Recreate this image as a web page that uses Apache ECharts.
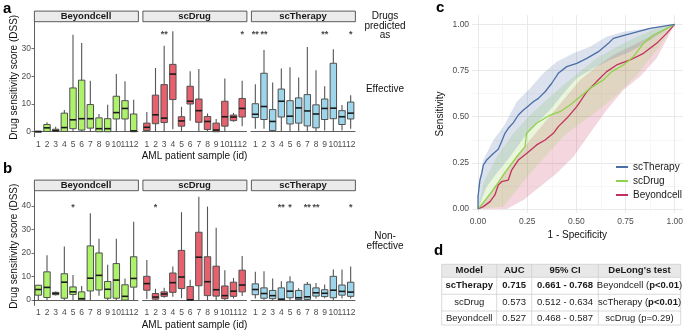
<!DOCTYPE html>
<html>
<head>
<meta charset="utf-8">
<script src="https://cdn.jsdelivr.net/npm/echarts@6/dist/echarts.min.js"></script>
<style>
html, body { margin: 0; padding: 0; background: #fff; }
#main { width: 683px; height: 333px; }
</style>
</head>
<body>
<div id="main"></div>
<script>
// ---- data ----
var samples = ['1', '2', '3', '4', '5', '6', '7', '8', '9', '10', '11', '12'];
var methods = ['Beyondcell', 'scDrug', 'scTherapy'];

// box stats per patient: [min, Q1, median, Q3, max]  (drugs predicted effective)
var effBeyondcell = [[0,0,0,0.2,0.3],[0,0.1,1.4,2.6,3.4],[0,0.1,0.4,0.9,1.8],[0,0.1,1.5,6.7,7.8],[0,1.1,4.3,15.8,35],[0,0.6,4.7,18.6,32],[0,1.3,4.7,9.8,18.4],[0,0,1.1,5,6.4],[0,0,1.1,4.7,9.7],[0,4.6,6.9,12.8,20.8],[0,4.6,8.4,11.2,18.2],[0,0,0.3,6.4,11.5]];
var effScDrug = [[0,0.4,1.6,3.1,7.1],[0,2.9,6.1,13.2,23],[0,3.3,4.9,17,31],[0.9,11.6,20.8,24.3,36.3],[0.1,2,3.9,5.4,9],[4,10,11,16.4,21.8],[0,3.4,7.6,11.8,22.6],[0,0.8,3.7,5.5,6.6],[0,0,0.6,3.1,4.6],[0,2,5.4,11,19.2],[3.6,4,5.3,6,6.8],[2,5.3,8.4,12,18.4]];
var effScTherapy = [[1.1,5.1,6.3,10.1,17.1],[1.1,4.4,9.1,21.1,29.5],[0,0.4,3.7,8,17.8],[0,5.3,11,15.4,22.8],[0,2.8,5.6,11.2,23.3],[0,3.1,8.6,12.2,19.6],[0,2.1,7.5,13.4,30.6],[0,1.4,6.4,9.7,22.2],[0.4,4.4,8.4,11.8,16.4],[0,4.7,8.5,24.7,29.8],[0.4,2.6,5.4,7.6,9.6],[1.1,4.6,6.7,10.7,13.2]];

// drugs predicted non-effective
var nonBeyondcell = [[0,2.1,4.5,6.3,6.5],[0,1.1,5.4,12,19],[2,2.3,2.8,3.3,3.7],[0,0.8,7.6,11.2,22.7],[0,2.4,3.5,5.6,10.7],[0,0,0.6,3.5,6],[0,3.9,9.3,23,36.9],[1.8,4.3,10.5,20,26],[0,0.8,4.6,7.9,15],[0,0.8,8.5,15.5,26],[0,0,1.6,6.5,9.2],[0,5.5,9.2,18.4,33.2]];
var nonScDrug = [[0.5,4.2,7,10.1,17],[0,0.4,1.3,2.8,4.8],[1,1.6,2.6,3.5,5.2],[1.4,3.3,7.4,11.5,14.3],[0.8,4.9,9.8,21.1,37.3],[0,0,0.1,5.8,8.6],[0,6.1,18.2,28.8,43.9],[0,1.9,7.8,18.4,39.7],[0,1.7,4.4,14.4,30.7],[0,0.6,1.9,6,12.7],[0.7,1.6,3.8,7.6,9.4],[1.7,3.5,6.4,12.7,18.7]];
var nonScTherapy = [[0.7,2.3,4.5,6.9,12],[0,0.8,2.8,5.2,12.3],[0,0.6,1.9,4.1,9.2],[0,0,0.4,5.2,8],[0,1,3.8,7.7,10.1],[0,0.2,1,4.1,5],[0,0.3,1.4,6.7,7.7],[0.7,1.7,3.1,5.2,7.3],[0.8,1.5,2.9,4.4,6.6],[0,1,4.2,10.1,13],[0.7,2.1,3.7,6.4,13],[0.7,1.6,3.4,7.6,14.3]];

// significance marks
var effStarsBeyondcell = ['','','','','','','','','','','',''];
var effStarsScDrug = ['','','**','','','','','','','','','*'];
var effStarsScTherapy = ['**','**','','','','','','','**','','','*'];
var nonStarsBeyondcell = ['','','','','*','','','','','','',''];
var nonStarsScDrug = ['','*','','','','','','','','','',''];
var nonStarsScTherapy = ['','','','**','*','','**','**','','','','*'];

var yTicksEff = [0, 10, 20, 30];
var yTicksNon = [0, 10, 20, 30, 40];

// ROC curves (1 - specificity, sensitivity)
var rocTherapyX = [0,0,0.010,0.019,0.027,0.044,0.078,0.103,0.120,0.137,0.154,0.180,0.205,0.231,0.256,0.281,0.307,0.341,0.375,0.408,0.451,0.502,0.553,0.612,0.663,0.688,0.747,0.875,1];
var rocTherapyY = [0,0.067,0.157,0.193,0.238,0.265,0.301,0.323,0.365,0.410,0.437,0.468,0.509,0.536,0.558,0.581,0.599,0.635,0.681,0.735,0.771,0.789,0.816,0.852,0.897,0.924,0.942,0.978,1];
var rocDrugX = [0,0.044,0.095,0.146,0.197,0.239,0.247,0.298,0.366,0.417,0.468,0.519,0.569,0.637,0.680,0.739,0.790,0.841,0.892,0.942,1];
var rocDrugY = [0,0.058,0.130,0.211,0.283,0.338,0.410,0.464,0.509,0.527,0.563,0.608,0.653,0.699,0.744,0.780,0.825,0.897,0.942,0.969,1];
var rocBeyondX = [0,0.027,0.061,0.086,0.103,0.120,0.154,0.171,0.205,0.247,0.298,0.341,0.383,0.408,0.451,0.502,0.553,0.603,0.654,0.705,0.773,0.841,0.908,0.959,1];
var rocBeyondY = [0,0.013,0.040,0.076,0.130,0.148,0.157,0.211,0.265,0.301,0.347,0.374,0.410,0.446,0.491,0.554,0.635,0.690,0.744,0.780,0.807,0.843,0.897,0.951,1];

// 95% CI bands: upper edge and lower edge
var bandTherapyUpX = [0,0.027,0.078,0.129,0.197,0.264,0.332,0.400,0.485,0.569,0.654,0.739,0.858,1];
var bandTherapyUpY = [0.12,0.265,0.374,0.446,0.581,0.653,0.735,0.798,0.843,0.879,0.933,0.960,0.978,1];
var bandTherapyLoX = [0,0.044,0.095,0.163,0.231,0.298,0.366,0.434,0.502,0.586,0.671,0.773,0.875,1];
var bandTherapyLoY = [0,0.121,0.193,0.283,0.383,0.464,0.536,0.626,0.708,0.762,0.807,0.852,0.915,1];
var bandDrugUpX = [0,0.027,0.095,0.180,0.264,0.349,0.434,0.519,0.603,0.705,0.807,0.908,1];
var bandDrugUpY = [0,0.139,0.283,0.410,0.509,0.590,0.671,0.744,0.816,0.879,0.933,0.978,1];
var bandDrugLoX = [0,0.129,0.197,0.264,0.349,0.434,0.519,0.603,0.705,0.807,0.908,1];
var bandDrugLoY = [0,0.013,0.103,0.193,0.292,0.392,0.464,0.527,0.617,0.726,0.861,1];
var bandBeyondUpX = [0,0.061,0.129,0.197,0.264,0.349,0.434,0.519,0.603,0.688,0.773,0.858,0.942,1];
var bandBeyondUpY = [0,0.085,0.193,0.283,0.374,0.482,0.590,0.699,0.771,0.834,0.879,0.924,0.969,1];
var bandBeyondLoX = [0,0.146,0.231,0.315,0.400,0.485,0.569,0.654,0.739,0.824,0.908,1];
var bandBeyondLoY = [0,0,0.049,0.121,0.193,0.283,0.410,0.536,0.644,0.717,0.816,1];

var rocTicks = [0, 0.25, 0.5, 0.75, 1];
var rocMinorTicks = [0.125, 0.375, 0.625, 0.875];

// table (panel d)
var tblHeader = ['Model', 'AUC', '95% CI', "DeLong's test"];
var tblModel = ['scTherapy', 'scDrug', 'Beyondcell'];
var tblAUC = ['0.715', '0.573', '0.527'];
var tblCI = ['0.661 - 0.768', '0.512 - 0.634', '0.468 - 0.587'];
var tblDelongRef = ['Beyondcell', 'scTherapy', 'scDrug'];
var tblDelongP = ['p<0.01', 'p<0.01', 'p=0.29'];

// ---- layout / style ----
var FONT = 'Liberation Sans, Arial, sans-serif';
var fills = ['#aef26c', '#e6606e', '#9dd6ea'];
var panelLeft = [34, 142.5, 251];
var panelW = 104;
var rowTop = [22, 191];
var rowH = [114.7, 114.3];
var rowMin = [-1.8, -2.2];
var rowMax = [39.6, 46.3];
var starY = [35.2, 39.4];

var boxSets = [[effBeyondcell, effScDrug, effScTherapy], [nonBeyondcell, nonScDrug, nonScTherapy]];
var starSets = [[effStarsBeyondcell, effStarsScDrug, effStarsScTherapy], [nonStarsBeyondcell, nonStarsScDrug, nonStarsScTherapy]];
var yTickSets = [yTicksEff, yTicksNon];

function renderBox(params, api) {
  var i = api.value(0);
  var pMin = api.coord([i, api.value(1)]);
  var pQ1 = api.coord([i, api.value(2)]);
  var pMed = api.coord([i, api.value(3)]);
  var pQ3 = api.coord([i, api.value(4)]);
  var pMax = api.coord([i, api.value(5)]);
  var half = api.size([1, 0])[0] * 0.37;
  var x = pMed[0];
  var wStyle = { stroke: '#555', lineWidth: 1.1 };
  return {
    type: 'group',
    children: [
      { type: 'line', shape: { x1: x, y1: pMax[1], x2: x, y2: pQ3[1] }, style: wStyle },
      { type: 'line', shape: { x1: x, y1: pQ1[1], x2: x, y2: pMin[1] }, style: wStyle },
      { type: 'rect', shape: { x: x - half, y: pQ3[1], width: half * 2, height: Math.max(pQ1[1] - pQ3[1], 0.8) },
        style: { fill: api.visual('color'), stroke: '#505050', lineWidth: 1 } },
      { type: 'line', shape: { x1: x - half, y1: pMed[1], x2: x + half, y2: pMed[1] }, style: { stroke: '#1a1a1a', lineWidth: 1.6 } }
    ]
  };
}

function makeBand(upX, upY, loX, loY) {
  return function (params, api) {
    var pts = [];
    for (var i = 0; i < upX.length; i++) pts.push(api.coord([upX[i], upY[i]]));
    for (var j = loX.length - 1; j >= 0; j--) pts.push(api.coord([loX[j], loY[j]]));
    return { type: 'polygon', shape: { points: pts }, style: { fill: api.visual('color'), opacity: 0.2 } };
  };
}

function zip(xs, ys) {
  return xs.map(function (x, i) { return [x, ys[i]]; });
}

var grids = [], xAxes = [], yAxes = [], series = [], graphics = [];

for (var r = 0; r < 2; r++) {
  for (var p = 0; p < 3; p++) {
    var g = r * 3 + p;
    grids.push({ left: panelLeft[p], top: rowTop[r], width: panelW, height: rowH[r], outerBoundsMode: 'none' });
    xAxes.push({
      type: 'category', gridIndex: g, data: samples,
      axisLine: { lineStyle: { color: '#333', width: 0.8 } },
      axisTick: { alignWithLabel: true, length: 2.5, lineStyle: { color: '#333', width: 0.7 } },
      axisLabel: { color: '#4d4d4d', fontSize: 8.5, fontFamily: FONT, margin: 3, interval: 0 },
      splitLine: { show: false }
    });
    yAxes.push({
      type: 'value', gridIndex: g, min: rowMin[r], max: rowMax[r],
      axisLine: { show: p === 0, lineStyle: { color: '#333', width: 0.8 } },
      axisTick: { show: p === 0, length: 2.5, customValues: yTickSets[r], lineStyle: { color: '#333', width: 0.7 } },
      axisLabel: { show: p === 0, customValues: yTickSets[r], color: '#4d4d4d', fontSize: 8.5, fontFamily: FONT, margin: 3 },
      splitLine: { show: false }
    });
    series.push({
      type: 'custom', id: 'box' + g, xAxisIndex: g, yAxisIndex: g,
      itemStyle: { color: fills[p] },
      renderItem: renderBox,
      encode: { x: 0, y: [1, 2, 3, 4, 5] },
      data: boxSets[r][p].map(function (b, i) { return [i].concat(b); }),
      silent: true
    });
    var marks = [];
    starSets[r][p].forEach(function (s, i) {
      if (s) marks.push({ value: [i, starY[r]], label: { formatter: s } });
    });
    series.push({
      type: 'scatter', xAxisIndex: g, yAxisIndex: g, symbolSize: 0, silent: true,
      label: { show: true, position: 'inside', color: '#111', fontSize: 9, fontFamily: FONT, fontWeight: 'bold' },
      data: marks
    });
    // facet strip
    graphics.push({
      type: 'rect', left: panelLeft[p], top: rowTop[r] - 11.3, shape: { width: panelW, height: 10.6 },
      style: { fill: '#ebebeb', stroke: '#333', lineWidth: 0.8 }
    });
    graphics.push({
      type: 'text', x: panelLeft[p] + panelW / 2, y: rowTop[r] - 6,
      style: { text: methods[p], font: 'bold 9.5px ' + FONT, fill: '#1a1a1a', align: 'center', verticalAlign: 'middle' }
    });
  }
  graphics.push({
    type: 'text', x: 14, y: rowTop[r] + rowH[r] / 2 - 2, rotation: Math.PI / 2,
    style: { text: 'Drug sensitivity score (DSS)', font: '10px ' + FONT, fill: '#111', align: 'center', verticalAlign: 'middle' }
  });
  graphics.push({
    type: 'text', x: 194.5, y: rowTop[r] + rowH[r] + 19.5,
    style: { text: 'AML patient sample (id)', font: '10px ' + FONT, fill: '#111', align: 'center', verticalAlign: 'middle' }
  });
}

// ROC grid
grids.push({ left: 472.1, top: 15.1, width: 210.5, height: 197.6, outerBoundsMode: 'none' });
xAxes.push({
  type: 'value', gridIndex: 6, min: -0.03, max: 1.04,
  axisLine: { show: false }, axisTick: { show: false, customValues: rocTicks },
  axisLabel: { customValues: rocTicks, color: '#4d4d4d', fontSize: 8.5, fontFamily: FONT, margin: 4,
    formatter: function (v) { return v.toFixed(2); } },
  splitLine: { show: true, lineStyle: { color: '#e3e3e3', width: 0.8 } },
  name: '1 - Specificity', nameLocation: 'middle', nameGap: 15,
  nameTextStyle: { color: '#111', fontSize: 10, fontFamily: FONT }
});
yAxes.push({
  type: 'value', gridIndex: 6, min: -0.02, max: 1.05,
  axisLine: { show: false }, axisTick: { show: false, customValues: rocTicks },
  axisLabel: { customValues: rocTicks, color: '#4d4d4d', fontSize: 8.5, fontFamily: FONT, margin: 3,
    formatter: function (v) { return v.toFixed(2); } },
  splitLine: { show: true, lineStyle: { color: '#e3e3e3', width: 0.8 } },
  name: 'Sensitivity', nameLocation: 'middle', nameGap: 27, nameRotate: 90,
  nameTextStyle: { color: '#111', fontSize: 10, fontFamily: FONT }
});
// minor grid lines
xAxes.push({
  type: 'value', gridIndex: 6, position: 'top', min: -0.03, max: 1.04,
  axisLine: { show: false }, axisTick: { show: false, customValues: rocMinorTicks },
  axisLabel: { show: false, customValues: rocMinorTicks },
  splitLine: { show: true, lineStyle: { color: '#f1f1f1', width: 0.6 } }
});
yAxes.push({
  type: 'value', gridIndex: 6, position: 'right', min: -0.02, max: 1.05,
  axisLine: { show: false }, axisTick: { show: false, customValues: rocMinorTicks },
  axisLabel: { show: false, customValues: rocMinorTicks },
  splitLine: { show: true, lineStyle: { color: '#f1f1f1', width: 0.6 } }
});

var rocColors = { scTherapy: '#4a6ea6', scDrug: '#8fd34b', Beyondcell: '#c2305c' };
var bands = [
  ['Beyondcell', bandBeyondUpX, bandBeyondUpY, bandBeyondLoX, bandBeyondLoY],
  ['scDrug', bandDrugUpX, bandDrugUpY, bandDrugLoX, bandDrugLoY],
  ['scTherapy', bandTherapyUpX, bandTherapyUpY, bandTherapyLoX, bandTherapyLoY]
];
bands.forEach(function (b) {
  series.push({
    type: 'custom', xAxisIndex: 6, yAxisIndex: 6, silent: true, z: 1,
    itemStyle: { color: rocColors[b[0]] },
    renderItem: makeBand(b[1], b[2], b[3], b[4]),
    data: [[0, 0]]
  });
});
var rocLines = [
  ['Beyondcell', rocBeyondX, rocBeyondY],
  ['scDrug', rocDrugX, rocDrugY],
  ['scTherapy', rocTherapyX, rocTherapyY]
];
rocLines.forEach(function (l) {
  series.push({
    type: 'line', name: l[0], xAxisIndex: 6, yAxisIndex: 6, z: 3,
    showSymbol: false, symbol: 'none', silent: true,
    lineStyle: { color: rocColors[l[0]], width: 1.3 },
    itemStyle: { color: rocColors[l[0]] },
    data: zip(l[1], l[2])
  });
});

// side labels, panel letters
graphics.push({ type: 'text', x: 3, y: 9, style: { text: 'a', font: 'bold 15px ' + FONT, fill: '#000', verticalAlign: 'middle' } });
graphics.push({ type: 'text', x: 3, y: 169, style: { text: 'b', font: 'bold 15px ' + FONT, fill: '#000', verticalAlign: 'middle' } });
graphics.push({ type: 'text', x: 436, y: 8, style: { text: 'c', font: 'bold 15px ' + FONT, fill: '#000', verticalAlign: 'middle' } });
graphics.push({ type: 'text', x: 434, y: 251, style: { text: 'd', font: 'bold 15px ' + FONT, fill: '#000', verticalAlign: 'middle' } });
[['Drugs', 16], ['predicted', 26], ['as', 35], ['Effective', 89], ['Non-', 236], ['effective', 246]].forEach(function (t) {
  graphics.push({ type: 'text', x: 385, y: t[1], style: { text: t[0], font: '10px ' + FONT, fill: '#111', align: 'center', verticalAlign: 'middle' } });
});

// table d
var colEdges = [441.7, 496.7, 531.7, 598.3, 680.7];
var rowEdges = [264.3, 277.3, 294.3, 311, 325];
graphics.push({ type: 'rect', shape: { x: colEdges[0], y: rowEdges[0], width: colEdges[4] - colEdges[0], height: rowEdges[1] - rowEdges[0] }, style: { fill: '#e8e8e8' } });
rowEdges.forEach(function (y) {
  graphics.push({ type: 'line', shape: { x1: colEdges[0], y1: y, x2: colEdges[4], y2: y }, style: { stroke: '#cfcfcf', lineWidth: 0.8 } });
});
colEdges.forEach(function (x) {
  graphics.push({ type: 'line', shape: { x1: x, y1: rowEdges[0], x2: x, y2: rowEdges[4] }, style: { stroke: '#cfcfcf', lineWidth: 0.8 } });
});
function cell(c, rr, text, bold, rich) {
  var st = { text: text, x: (colEdges[c] + colEdges[c + 1]) / 2, y: (rowEdges[rr] + rowEdges[rr + 1]) / 2,
    font: (bold ? 'bold ' : '') + '9.5px ' + FONT, fill: '#1a1a1a', align: 'center', verticalAlign: 'middle' };
  if (rich) st.rich = rich;
  graphics.push({ type: 'text', style: st });
}
tblHeader.forEach(function (h, c) { cell(c, 0, h, true); });
var richP = { n: { fontSize: 9.5, fontFamily: FONT, fill: '#1a1a1a' }, b: { fontSize: 9.5, fontFamily: FONT, fontWeight: 'bold', fill: '#1a1a1a' } };
tblModel.forEach(function (m, i) {
  var bold = i === 0;
  cell(0, i + 1, m, bold);
  cell(1, i + 1, tblAUC[i], bold);
  cell(2, i + 1, tblCI[i], bold);
  var sig = tblDelongP[i].indexOf('<') >= 0;
  cell(3, i + 1, '{n|' + tblDelongRef[i] + ' (}{' + (sig ? 'b' : 'n') + '|' + tblDelongP[i] + '}{n|)}', false, richP);
});

var chart = echarts.init(document.getElementById('main'), null, { renderer: 'canvas' });
chart.setOption({
  backgroundColor: '#fff',
  animation: false,
  textStyle: { fontFamily: FONT },
  grid: grids,
  xAxis: xAxes,
  yAxis: yAxes,
  legend: {
    data: ['scTherapy', 'scDrug', 'Beyondcell'],
    orient: 'vertical', left: 611, top: 157, itemGap: 4,
    icon: 'rect', itemWidth: 12, itemHeight: 2,
    textStyle: { color: '#1a1a1a', fontSize: 10, fontFamily: FONT, padding: [0, 0, 0, 0] }
  },
  series: series,
  graphic: graphics
});
</script>
</body>
</html>
